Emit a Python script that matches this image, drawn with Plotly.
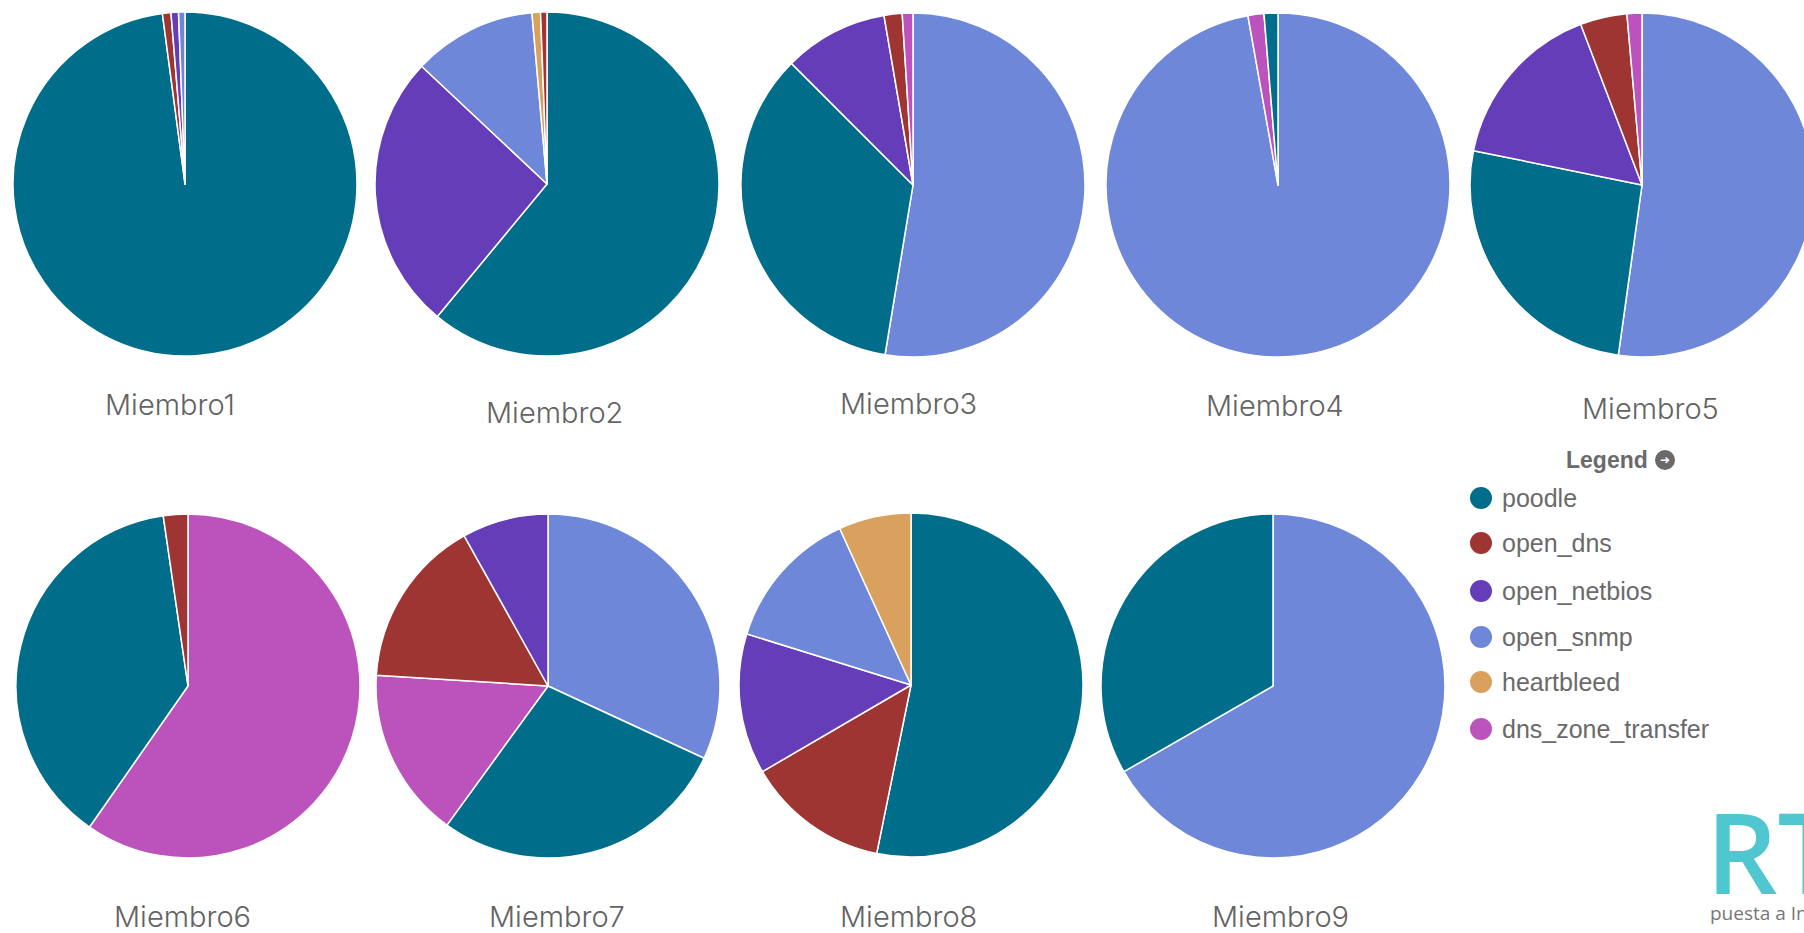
import plotly.graph_objects as go

# Vulnerability categories and their colours
categories = ["poodle", "open_dns", "open_netbios", "open_snmp", "heartbleed", "dns_zone_transfer"]
category_colors = ["#006e8a", "#9e3533", "#663db8", "#6f87d8", "#daa05d", "#bc52bc"]

members = ["Miembro1", "Miembro2", "Miembro3", "Miembro4", "Miembro5",
           "Miembro6", "Miembro7", "Miembro8", "Miembro9"]

# Share (%) of each finding per member, listed in slice order (clockwise from 12 o'clock)
m1_labels = ["poodle", "open_dns", "open_netbios", "open_snmp"]
m1_values = [97.9, 0.8, 0.7, 0.6]
m2_labels = ["poodle", "open_netbios", "open_snmp", "heartbleed", "open_dns"]
m2_values = [61.0, 26.0, 11.6, 0.8, 0.6]
m3_labels = ["open_snmp", "poodle", "open_netbios", "open_dns", "dns_zone_transfer"]
m3_values = [52.6, 34.9, 9.8, 1.7, 1.0]
m4_labels = ["open_snmp", "dns_zone_transfer", "poodle"]
m4_values = [97.2, 1.5, 1.3]
m5_labels = ["open_snmp", "poodle", "open_netbios", "open_dns", "dns_zone_transfer"]
m5_values = [52.2, 26.0, 16.0, 4.4, 1.4]
m6_labels = ["dns_zone_transfer", "poodle", "open_dns"]
m6_values = [59.7, 38.0, 2.3]
m7_labels = ["open_snmp", "poodle", "dns_zone_transfer", "open_dns", "open_netbios"]
m7_values = [31.9, 28.1, 16.0, 15.9, 8.1]
m8_labels = ["poodle", "open_dns", "open_netbios", "open_snmp", "heartbleed"]
m8_values = [53.2, 13.4, 13.2, 13.4, 6.8]
m9_labels = ["open_snmp", "poodle"]
m9_values = [66.7, 33.3]

member_labels = [m1_labels, m2_labels, m3_labels, m4_labels, m5_labels,
                 m6_labels, m7_labels, m8_labels, m9_labels]
member_values = [m1_values, m2_values, m3_values, m4_values, m5_values,
                 m6_values, m7_values, m8_values, m9_values]

# ---- layout (pixels) ----
W, H = 1830, 933
R = 172
pie_centers = [(185, 184), (547, 184), (913, 185), (1278, 185), (1642, 185),
               (188, 686), (548, 686), (911, 685), (1273, 686)]
title_pos = [(170, 404), (554, 412), (908, 403), (1275, 405), (1650, 408),
             (182, 916), (557, 916), (908, 916), (1280, 916)]

color_of = dict(zip(categories, category_colors))


def px_x(x):
    return x / W


def px_y(y):
    return 1 - y / H


fig = go.Figure()
for name, labs, vals, (cx, cy) in zip(members, member_labels, member_values, pie_centers):
    fig.add_trace(go.Pie(
        name=name,
        labels=labs,
        values=vals,
        sort=False,
        direction="clockwise",
        rotation=0,
        textinfo="none",
        hovertemplate="%{label}: %{value}%<extra>" + name + "</extra>",
        marker=dict(colors=[color_of[l] for l in labs],
                    line=dict(color="white", width=1.5)),
        domain=dict(x=[px_x(cx - R), px_x(cx + R)],
                    y=[px_y(cy + R), px_y(cy - R)]),
        showlegend=False,
    ))

annotations = []
for name, (tx, ty) in zip(members, title_pos):
    annotations.append(dict(
        x=px_x(tx), y=px_y(ty), xref="paper", yref="paper",
        text=name, showarrow=False, xanchor="center", yanchor="middle",
        font=dict(family="Inter", size=29, color="#636363", weight=300),
    ))

# Legend block
legend_y = [498, 543, 591, 637, 682, 729]
shapes = []
annotations.append(dict(
    x=px_x(1650), y=px_y(460), xref="paper", yref="paper",
    text="<b>Legend</b>", showarrow=False, xanchor="right", yanchor="middle",
    font=dict(family="Liberation Sans", size=23, color="#6a6a6a"),
))
# round "toggle" button next to the legend title
shapes.append(dict(
    type="circle", xref="paper", yref="paper",
    x0=px_x(1655), x1=px_x(1675), y0=px_y(470), y1=px_y(450),
    fillcolor="#6a6a6a", line=dict(width=0),
))
annotations.append(dict(
    x=px_x(1665), y=px_y(460), xref="paper", yref="paper",
    text="<b>➜</b>", showarrow=False, xanchor="center", yanchor="middle",
    font=dict(family="DejaVu Sans", size=12, color="white"),
))
for cat, col, ly in zip(categories, category_colors, legend_y):
    shapes.append(dict(
        type="circle", xref="paper", yref="paper",
        x0=px_x(1470), x1=px_x(1492), y0=px_y(ly + 11), y1=px_y(ly - 11),
        fillcolor=col, line=dict(width=0),
    ))
    annotations.append(dict(
        x=px_x(1500), y=px_y(ly), xref="paper", yref="paper",
        text=cat, showarrow=False, xanchor="left", yanchor="middle",
        font=dict(family="Liberation Sans", size=25, color="#6a6a6a"),
    ))

# Logo
annotations.append(dict(
    x=px_x(1704), y=px_y(850), xref="paper", yref="paper",
    text="RTI", showarrow=False, xanchor="left", yanchor="middle",
    font=dict(family="Open Sans", size=112, color="#4fc6d0", weight=600),
))
annotations.append(dict(
    x=px_x(1708), y=px_y(913), xref="paper", yref="paper",
    text="puesta a Incidentes", showarrow=False, xanchor="left", yanchor="middle",
    font=dict(family="Open Sans", size=19, color="#777777"),
))

fig.update_layout(
    width=W, height=H,
    margin=dict(l=0, r=0, t=0, b=0),
    paper_bgcolor="white",
    plot_bgcolor="white",
    annotations=annotations,
    shapes=shapes,
)

fig.write_html(
    "out.html",
    config={"displayModeBar": False},
    post_script=("document.body.style.margin='0';"
                 "document.body.style.overflow='hidden';"
                 "document.documentElement.style.overflow='hidden';"),
)
